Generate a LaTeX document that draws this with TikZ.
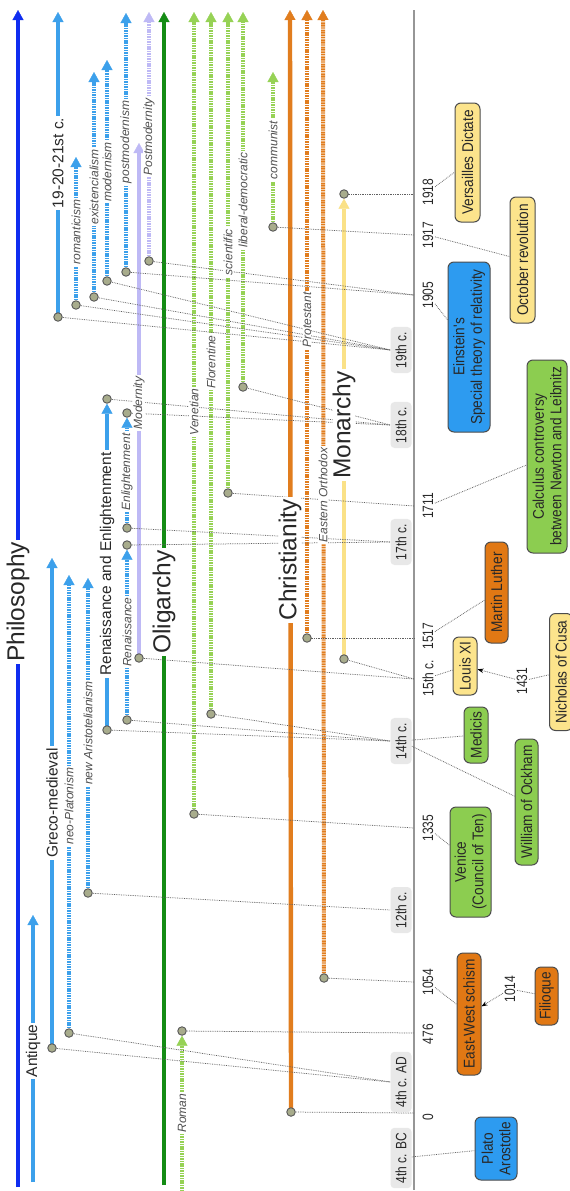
\documentclass[tikz,border=0pt]{standalone}
\usepackage{fontspec}
\setmainfont{Liberation Sans}
\newfontfamily\condf{Liberation Sans}[FakeStretch=0.8]
\newfontfamily\boxf{Liberation Sans}[FakeStretch=0.88]
\usetikzlibrary{arrows.meta}
\definecolor{philblue}{RGB}{15,45,240}
\definecolor{lblue}{RGB}{60,160,235}
\definecolor{lav}{RGB}{190,185,245}
\definecolor{dgreen}{RGB}{20,140,20}
\definecolor{lgreen}{RGB}{150,210,85}
\definecolor{orng}{RGB}{225,125,30}
\definecolor{yel}{RGB}{250,225,135}
\definecolor{dotfill}{RGB}{168,172,140}
\definecolor{conncol}{RGB}{95,95,95}
\definecolor{bxyellow}{RGB}{252,228,140}
\definecolor{bxblue}{RGB}{45,155,240}
\definecolor{bxgreen}{RGB}{140,205,80}
\definecolor{bxorange}{RGB}{225,120,20}
\definecolor{graybox}{RGB}{232,232,232}
\definecolor{txt}{RGB}{40,40,40}
\definecolor{ittxt}{RGB}{80,80,80}
\definecolor{axiscol}{RGB}{150,150,150}
\pgfdeclarelayer{back}
\pgfdeclarelayer{lines}
\pgfsetlayers{back,lines,main}
\tikzset{
  dot/.style={circle, fill=dotfill, draw=black!65, line width=0.9pt, minimum size=8.5pt, inner sep=0pt},
  biglbl/.style={rotate=90, fill=white, inner xsep=2pt, inner ysep=0pt, text=txt, font=\fontsize{24.5}{26}\selectfont},
  midlbl/.style={rotate=90, fill=white, inner xsep=2pt, inner ysep=0.5pt, text=txt, font=\fontsize{15.5}{17}\selectfont},
  itlbl/.style={rotate=90, fill=white, inner xsep=1.5pt, inner ysep=0.3pt, text=ittxt, font=\fontsize{12}{13}\selectfont\itshape},
  yearlbl/.style={rotate=90, inner sep=1.5pt, text=txt, font=\condf\fontsize{15}{16}\selectfont},
  cbox/.style={rotate=90, fill=graybox, rounded corners=4pt, inner xsep=5pt, minimum height=21pt, text=txt, font=\condf\fontsize{15}{16}\selectfont},
  evbox/.style={rotate=90, draw=black!70, line width=1pt, rounded corners=6pt, align=center, text=txt, inner sep=2pt, font=\boxf\fontsize{15.5}{17.5}\selectfont},
  sarr/.style={line width=4pt, -{Triangle[width=11pt,length=10pt,line width'=0.4pt]}},
  darr/.style={line width=4pt, dash pattern=on 1.1pt off 0.6pt, -{Triangle[width=11pt,length=10pt,line width'=0.4pt]}},
  conn/.style={draw=conncol, line width=0.75pt, dash pattern=on 0.75pt off 1pt},
  connarr/.style={conn, -{Stealth[length=6pt,width=4.5pt,color=black]}},
  axisline/.style={draw=axiscol, line width=1.3pt}
}
\begin{document}
\begin{tikzpicture}[x=1pt,y=-1pt]
\begin{pgfonlayer}{back}
\fill[white] (0,0) rectangle (570,1191);
\end{pgfonlayer}
\useasboundingbox (0,0) rectangle (570,1191);

% ---------- dots ----------
\node[dot] (dGreco) at (52,1048) {};
\node[dot] (dNeoP) at (69,1033) {};
\node[dot] (dNewA) at (88,893) {};
\node[dot] (dREB) at (107,730) {};
\node[dot] (dRET) at (107,399) {};
\node[dot] (dRenB) at (127,720) {};
\node[dot] (dRenT) at (127,545) {};
\node[dot] (dEnlB) at (127,528) {};
\node[dot] (dEnlT) at (127,413) {};
\node[dot] (dModB) at (139,658) {};
\node[dot] (dPostM) at (149,261) {};
\node[dot] (d1921) at (58,317) {};
\node[dot] (dRom) at (76,305) {};
\node[dot] (dExi) at (94,297) {};
\node[dot] (dMdn) at (107,281) {};
\node[dot] (dPmd) at (126,272) {};
\node[dot] (dRoman) at (182,1031) {};
\node[dot] (dVen) at (194,814) {};
\node[dot] (dFlor) at (211,714) {};
\node[dot] (dSci) at (228,493) {};
\node[dot] (dLib) at (243,387) {};
\node[dot] (dCom) at (273,227) {};
\node[dot] (dChr) at (291,1112) {};
\node[dot] (dProt) at (307,638) {};
\node[dot] (dEO) at (324,978) {};
\node[dot] (dMonB) at (344,659) {};
\node[dot] (dMonT) at (344,194) {};

% ---------- free ends ----------
\coordinate (phB) at (18,1187);   \coordinate (phT) at (18,10);
\coordinate (anB) at (33,1182);   \coordinate (anT) at (33,915);
\coordinate (grT) at (52,558);
\coordinate (neoT) at (69,575);
\coordinate (newAT) at (88,578);
\coordinate (modT) at (139,143);
\coordinate (pmT) at (149,12);
\coordinate (t21T) at (58,12);
\coordinate (romT) at (76,157);
\coordinate (exiT) at (94,72);
\coordinate (mdnT) at (107,60);
\coordinate (pmdT) at (126,13);
\coordinate (oliB) at (164,1185); \coordinate (oliT) at (164,12);
\coordinate (romanB) at (182,1191);
\coordinate (venT) at (194,12);
\coordinate (florT) at (211,12);
\coordinate (sciT) at (228,12);
\coordinate (libT) at (243,12);
\coordinate (comT) at (273,72);
\coordinate (chrT) at (290,10);
\coordinate (protT) at (307,10);
\coordinate (eoT) at (323,10);
\coordinate (axT) at (414,10);   \coordinate (axB) at (414,1190);

% axis points
\coordinate (a1918) at (414,194);
\coordinate (a1917) at (414,235);
\coordinate (a1905) at (414,295);
\coordinate (a1711) at (414,506);
\coordinate (a1517) at (414,638);
\coordinate (a15) at (414,679);
\coordinate (a1335) at (414,828);
\coordinate (a1054) at (414,982);
\coordinate (a476) at (414,1033);
\coordinate (a0) at (414,1113);

% ---------- line labels ----------
\node[biglbl] (lPhil) at (18,602) {Philosophy};
\node[midlbl] (lAnt) at (33,1051) {Antique};
\node[midlbl] (lGreco) at (52,803) {Greco-medieval};
\node[itlbl] (lNeoP) at (69,806) {neo-Platonism};
\node[itlbl] (lNewA) at (88,733) {new Aristotelianism};
\node[midlbl] (lRE) at (107,564) {Renaissance and Enlightenment};
\node[itlbl] (lRen) at (127,632) {Renaissance};
\node[itlbl] (lEnl) at (127,472) {Enlightenment};
\node[itlbl] (lMod) at (139,403) {Modernity};
\node[itlbl] (lPostM) at (149,137) {Postmodernity};
\node[midlbl] (l1921) at (58,163) {19-20-21st c.};
\node[itlbl] (lRom) at (76,232) {romanticism};
\node[itlbl] (lExi) at (94,187) {existencialism};
\node[itlbl] (lMdn) at (107,172) {modernism};
\node[itlbl] (lPmd) at (126,142) {postmodernism};
\node[biglbl] (lOli) at (164,602) {Oligarchy};
\node[itlbl] (lRoman) at (182,1113) {Roman};
\node[itlbl] (lVen) at (194,412) {Venetian};
\node[itlbl] (lFlor) at (211,362) {Florentine};
\node[itlbl] (lSci) at (228,252) {scientific};
\node[itlbl] (lLib) at (243,200) {liberal-democratic};
\node[itlbl] (lCom) at (273,150) {communist};
\node[biglbl] (lChr) at (290,560) {Christianity};
\node[itlbl] (lProt) at (307,320) {Protestant};
\node[itlbl] (lEO) at (323,495) {Eastern Orthodox};
\node[biglbl] (lMon) at (344,425) {Monarchy};

% ---------- time labels ----------
\node[yearlbl] (t1918) at (428,192) {1918};
\node[yearlbl] (t1917) at (428,235) {1917};
\node[yearlbl] (t1905) at (428,295) {1905};
\node[yearlbl] (t1711) at (428,506) {1711};
\node[yearlbl] (t1517) at (428,636) {1517};
\node[yearlbl] (t15) at (428,678) {15th c.};
\node[yearlbl] (t1431) at (522,681) {1431};
\node[yearlbl] (t1335) at (428,828) {1335};
\node[yearlbl] (t1054) at (428,982) {1054};
\node[yearlbl] (t1014) at (510,989) {1014};
\node[yearlbl] (t476) at (428,1034) {476};
\node[yearlbl] (t0) at (428,1117) {0};

\node[cbox] (c19) at (401,350) {19th c.};
\node[cbox] (c18) at (401,425) {18th c.};
\node[cbox] (c17) at (401,542) {17th c.};
\node[cbox] (c14) at (401,741) {14th c.};
\node[cbox] (c12) at (401,910) {12th c.};
\node[cbox] (c4AD) at (401,1082) {4th c. AD};
\node[cbox] (c4BC) at (401,1158) {4th c. BC};

% ---------- event boxes ----------
\node[evbox, fill=bxyellow, minimum width=119pt, minimum height=25pt] (vers) at (467.5,162.5) {Versailles Dictate};
\node[evbox, fill=bxyellow, minimum width=126pt, minimum height=25pt] (octo) at (522.5,260) {October revolution};
\node[evbox, fill=bxblue, minimum width=170pt, minimum height=42pt] (ein) at (469,347) {Einstein's\\Special theory of relativity};
\node[evbox, fill=bxgreen, minimum width=193pt, minimum height=40pt] (calc) at (547,456.5) {Calculus controversy\\between Newton and Leibnitz};
\node[evbox, fill=bxorange, minimum width=101pt, minimum height=23pt] (luth) at (496.5,592.5) {Martin Luther};
\node[evbox, fill=bxyellow, minimum width=58pt, minimum height=24pt] (louis) at (465,666) {Louis XI};
\node[evbox, fill=bxyellow, minimum width=117pt, minimum height=23pt] (cusa) at (561,672) {Nicholas of Cusa};
\node[evbox, fill=bxgreen, minimum width=56pt, minimum height=24pt] (medi) at (476,735) {Medicis};
\node[evbox, fill=bxgreen, minimum width=126pt, minimum height=23pt] (ockh) at (526.5,802) {William of Ockham};
\node[evbox, fill=bxgreen, minimum width=110pt, minimum height=41pt] (veni) at (470.5,862) {Venice\\(Council of Ten)};
\node[evbox, fill=bxorange, minimum width=122pt, minimum height=24pt] (ews) at (469,1014) {East-West schism};
\node[evbox, fill=bxorange, minimum width=58pt, minimum height=23pt] (fili) at (546.5,996) {Filioque};
\node[evbox, fill=bxblue, minimum width=63pt, minimum height=42pt] (plato) at (496,1148.5) {Plato\\Arostotle};

% ---------- lines ----------
\begin{pgfonlayer}{lines}
\draw[axisline] (axT) -- (axB);
\draw[sarr, philblue, line width=4.2pt] (phB) -- (phT);
\draw[sarr, lblue] (anB) -- (anT);
\draw[sarr, lblue] (dGreco.center) -- (grT);
\draw[darr, lblue] (dNeoP.center) -- (neoT);
\draw[darr, lblue] (dNewA.center) -- (newAT);
\draw[sarr, lblue] (dREB.center) -- (dRET);
\draw[darr, lblue] (dRenB.center) -- (dRenT);
\draw[darr, lblue] (dEnlB.center) -- (dEnlT);
\draw[sarr, lav] (dModB.center) -- (modT);
\draw[darr, lav] (dPostM.center) -- (pmT);
\draw[sarr, lblue] (d1921.center) -- (t21T);
\draw[darr, lblue] (dRom.center) -- (romT);
\draw[darr, lblue] (dExi.center) -- (exiT);
\draw[darr, lblue] (dMdn.center) -- (mdnT);
\draw[darr, lblue] (dPmd.center) -- (pmdT);
\draw[sarr, dgreen, line width=4.6pt] (oliB) -- (oliT);
\draw[darr, lgreen] (romanB) -- (dRoman);
\draw[darr, lgreen] (dVen.center) -- (venT);
\draw[darr, lgreen] (dFlor.center) -- (florT);
\draw[darr, lgreen] (dSci.center) -- (sciT);
\draw[darr, lgreen] (dLib.center) -- (libT);
\draw[darr, lgreen] (dCom.center) -- (comT);
\draw[sarr, orng, line width=4.4pt] (dChr.center) -- (chrT);
\draw[darr, orng] (dProt.center) -- (protT);
\draw[darr, orng] (dEO.center) -- (eoT);
\draw[sarr, yel, line width=4.4pt] (dMonB.center) -- (dMonT);

% connectors from dots to the time axis
\draw[conn] (dPostM.center) -- (a1905);
\draw[conn] (dPmd.center) -- (a1905);
\draw[conn] (dMdn.center) -- (c19.north);
\draw[conn] (dExi.center) -- (c19.north);
\draw[conn] (dRom.center) -- (c19.north);
\draw[conn] (d1921.center) -- (c19.north);
\draw[conn] (dCom.center) -- (a1917);
\draw[conn] (dMonT.center) -- (a1918);
\draw[conn] (dLib.center) -- (c18.north);
\draw[conn] (dRET.center) -- (c18.north);
\draw[conn] (dEnlT.center) -- (c18.north);
\draw[conn] (dSci.center) -- (a1711);
\draw[conn] (dRenT.center) -- (c17.north);
\draw[conn] (dEnlB.center) -- (c17.north);
\draw[conn] (dProt.center) -- (a1517);
\draw[conn] (dModB.center) -- (a15);
\draw[conn] (dMonB.center) -- (a15);
\draw[conn] (dFlor.center) -- (c14.north);
\draw[conn] (dRenB.center) -- (c14.north);
\draw[conn] (dREB.center) -- (c14.north);
\draw[conn] (dVen.center) -- (a1335);
\draw[conn] (dNewA.center) -- (c12.north);
\draw[conn] (dEO.center) -- (a1054);
\draw[conn] (dRoman.center) -- (a476);
\draw[conn] (dNeoP.center) -- (c4AD.north);
\draw[conn] (dGreco.center) -- (c4AD.north);
\draw[conn] (dChr.center) -- (a0);

% connectors to event boxes
\draw[conn] (t1918) -- (vers);
\draw[conn] (t1917) -- (octo);
\draw[conn] (t1905) -- (ein);
\draw[conn] (t1711) -- (calc);
\draw[conn] (t1517) -- (luth);
\draw[conn] (t15) -- (louis);
\draw[connarr] (t1431) -- (louis);
\draw[conn] (t1431) -- (cusa);
\draw[conn] (c14) -- (medi);
\draw[conn] (c14) -- (ockh);
\draw[conn] (t1335) -- (veni);
\draw[conn] (t1054) -- (ews);
\draw[connarr] (t1014) -- (ews);
\draw[conn] (t1014) -- (fili);
\draw[conn] (c4BC) -- (plato);
\end{pgfonlayer}
\end{tikzpicture}
\end{document}
